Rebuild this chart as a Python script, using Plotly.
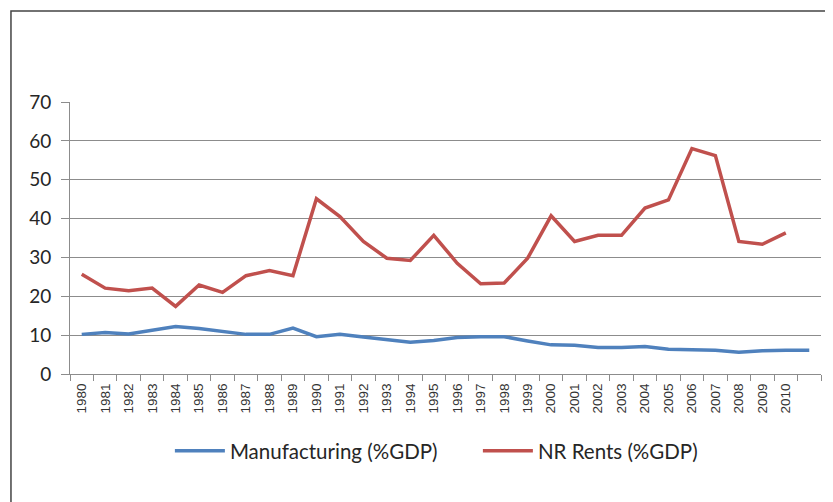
import plotly.graph_objects as go

anos = list(range(1980, 2012))
manufatura = [10.2, 10.7, 10.3, 11.2, 12.2, 11.7, 10.9, 10.2, 10.2, 11.8,
              9.6, 10.2, 9.5, 8.8, 8.2, 8.6, 9.4, 9.6, 9.6, 8.5,
              7.5, 7.4, 6.8, 6.8, 7.1, 6.4, 6.2, 6.1, 5.6, 6.0,
              6.1, 6.1]
anos_nr = list(range(1980, 2011))
nr_rents = [25.7, 22.1, 21.4, 22.1, 17.4, 22.9, 21.0, 25.3, 26.6, 25.3,
            45.1, 40.5, 34.1, 29.8, 29.2, 35.7, 28.5, 23.2, 23.4, 29.8,
            40.7, 34.1, 35.7, 35.7, 42.7, 44.8, 58.0, 56.2, 34.1, 33.4,
            36.3]
rotulos_x = [str(a) for a in range(1980, 2011)]

fig = go.Figure()
fig.add_trace(go.Scatter(x=anos, y=manufatura, mode="lines", name="Manufacturing (%GDP)",
                         line=dict(color="#4F81BD", width=3.5)))
fig.add_trace(go.Scatter(x=anos_nr, y=nr_rents, mode="lines", name="NR Rents (%GDP)",
                         line=dict(color="#C0504D", width=3.5)))

# a página tem 8px de margem no body, por isso l/t descontados
fig.update_layout(
    width=833, height=502,
    margin=dict(l=62, r=20, t=94, b=136, autoexpand=False),
    paper_bgcolor="white", plot_bgcolor="white",
    font=dict(family="Lato, Arial", color="#262626"),
    showlegend=True,
    legend=dict(orientation="h", x=0.133, y=-0.283, xanchor="left", yanchor="middle",
                font=dict(size=20.5, family="Lato"), itemwidth=50, entrywidth=243),
)
fig.update_xaxes(
    automargin=False,
    range=[1979.5, 2011.5], tickmode="array",
    tickvals=[int(r) for r in rotulos_x], ticktext=rotulos_x,
    tickangle=-90, tickfont=dict(size=13.5, family="Liberation Sans", color="#333"),
    ticks="", ticklabelstandoff=3, showgrid=False, zeroline=False,
    showline=True, linecolor="#8c8c8c", linewidth=1,
    minor=dict(tickvals=[a - 0.5 for a in range(1980, 2013)], ticks="outside",
               ticklen=6, tickcolor="#8c8c8c", showgrid=False),
)
fig.update_yaxes(
    automargin=False,
    range=[0, 70], dtick=10, tickfont=dict(size=19), ticklabelstandoff=6,
    showgrid=True, gridcolor="#8c8c8c", gridwidth=1, zeroline=False,
    showline=True, linecolor="#8c8c8c", linewidth=1,
    ticks="outside", ticklen=8, tickcolor="#8c8c8c",
)
# moldura do gráfico
fig.add_shape(type="rect", xref="paper", yref="paper",
              x0=-0.0786, x1=1.2, y0=-0.7, y1=1.3346,
              line=dict(color="#444", width=1.5), layer="below")

fig.write_html("out.html")
